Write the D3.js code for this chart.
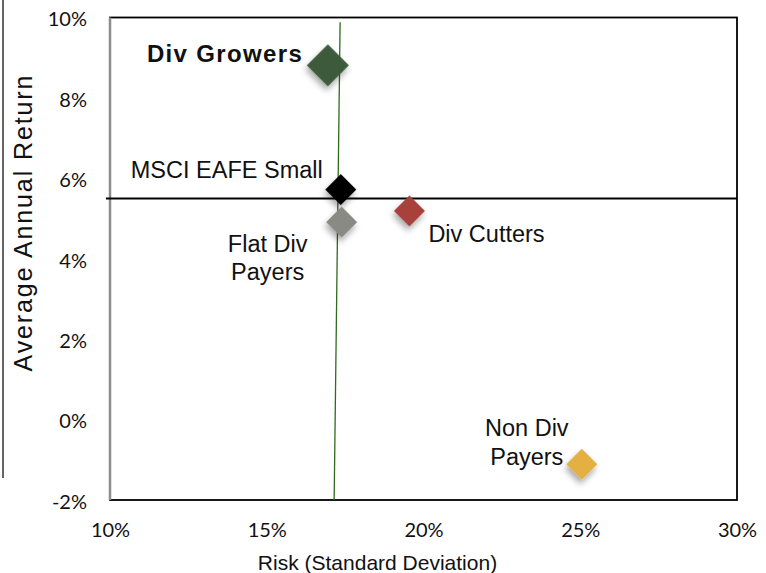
<!DOCTYPE html>
<html>
<head>
<meta charset="utf-8">
<title>Risk vs return</title>
<script src="https://cdn.jsdelivr.net/npm/d3@7"></script>
<style>
  body { margin: 0; background: #fff; }
  svg { display: block; }
  .tick text { font-family: Lato, "Open Sans", sans-serif; font-size: 20px; fill: #111; }
  .lbl { font-family: "Liberation Sans", Arial, sans-serif; font-size: 23.5px; fill: #111; }
</style>
</head>
<body>
<div id="chart"></div>
<script>
// data
const names = ["Div Growers", "MSCI EAFE Small", "Flat Div Payers", "Div Cutters", "Non Div Payers"];
const risk = [16.95, 17.36, 17.39, 19.55, 25.05];
const ret = [8.81, 5.72, 4.91, 5.19, -1.11];
const xTicks = [10, 15, 20, 25, 30];
const yTicks = [-2, 0, 2, 4, 6, 8, 10];
const benchReturn = 5.5;                     // horizontal black line
const benchRisk = [[17.15, -2], [17.34, 9.88]]; // near-vertical green line

// styles
const colors = ["#3c5a3b", "#000000", "#8a8a85", "#a8403b", "#e4b043"];
const width = 766, height = 573;
const margin = {left: 110, right: 29, top: 17.5, bottom: 73};

const x = d3.scaleLinear().domain([10, 30]).range([margin.left, width - margin.right]);
const y = d3.scaleLinear().domain([-2, 10]).range([height - margin.bottom, margin.top]);

const svg = d3.select("#chart").append("svg")
  .attr("width", width)
  .attr("height", height);

const defs = svg.append("defs");
const f = defs.append("filter").attr("id", "shadow")
  .attr("x", "-50%").attr("y", "-50%").attr("width", "200%").attr("height", "200%");
f.append("feDropShadow").attr("dx", 2).attr("dy", 4).attr("stdDeviation", 3)
  .attr("flood-color", "#000").attr("flood-opacity", 0.35);

// stray frame line on the left edge
svg.append("line")
  .attr("x1", 3).attr("x2", 3).attr("y1", 0).attr("y2", 478)
  .attr("stroke", "#333").attr("stroke-width", 1.5);

// plot frame
svg.append("rect")
  .attr("x", x(10)).attr("y", y(10))
  .attr("width", x(30) - x(10)).attr("height", y(-2) - y(10))
  .attr("fill", "none").attr("stroke", "#000").attr("stroke-width", 1.8);
svg.append("line")
  .attr("x1", x(10)).attr("x2", x(10)).attr("y1", y(10)).attr("y2", y(-2))
  .attr("stroke", "#8c8c8c").attr("stroke-width", 2.5);

// axes
const xAxis = svg.append("g")
  .attr("transform", "translate(0," + y(-2) + ")")
  .call(d3.axisBottom(x).tickValues(xTicks).tickSize(0).tickPadding(23).tickFormat(d => d + "%"));
xAxis.select(".domain").remove();

const yAxis = svg.append("g")
  .attr("transform", "translate(" + x(10) + ",0)")
  .call(d3.axisLeft(y).tickValues(yTicks).tickSize(0).tickPadding(23).tickFormat(d => d + "%"));
yAxis.select(".domain").remove();
yAxis.selectAll("text").attr("dy", "0.42em");

// axis titles
svg.append("text")
  .attr("class", "lbl")
  .attr("x", 377.5).attr("y", 570)
  .attr("text-anchor", "middle")
  .style("font-size", "21px")
  .text("Risk (Standard Deviation)");

svg.append("text")
  .attr("class", "lbl")
  .attr("transform", "translate(32,223.5) rotate(-90)")
  .attr("text-anchor", "middle")
  .attr("textLength", 296)
  .attr("lengthAdjust", "spacing")
  .style("font-size", "25px")
  .text("Average Annual Return");

// reference lines
svg.append("line")
  .attr("x1", x(9.87)).attr("x2", x(30))
  .attr("y1", y(benchReturn)).attr("y2", y(benchReturn))
  .attr("stroke", "#000").attr("stroke-width", 2);

svg.append("line")
  .attr("x1", x(benchRisk[0][0])).attr("y1", y(benchRisk[0][1]))
  .attr("x2", x(benchRisk[1][0])).attr("y2", y(benchRisk[1][1]))
  .attr("stroke", "#2f6a1e").attr("stroke-width", 1.3);

// points
const pts = names.map((n, i) => ({name: n, risk: risk[i], ret: ret[i], color: colors[i]}));
const sq = d3.symbol().type(d3.symbolSquare);

svg.append("g").selectAll("path")
  .data(pts)
  .join("path")
  .attr("d", (d, i) => sq.size(i === 0 ? 880 : 480)())
  .attr("transform", d => "translate(" + x(d.risk) + "," + y(d.ret) + ") rotate(45)")
  .attr("fill", d => d.color)
  .attr("filter", "url(#shadow)");

// labels: offsets from the point
const labelPos = [
  {dx: -26, dy: [-3.5], anchor: "end", lines: ["Div Growers"], bold: true},
  {dx: -18, dy: [-12], anchor: "end", lines: ["MSCI EAFE Small"]},
  {dx: -74, dy: [29.5, 57.7], anchor: "middle", lines: ["Flat Div", "Payers"]},
  {dx: 19, dy: [31], anchor: "start", lines: ["Div Cutters"]},
  {dx: -55, dy: [-28.3, 1], anchor: "middle", lines: ["Non Div", "Payers"]}
];

pts.forEach((d, i) => {
  const p = labelPos[i];
  const t = svg.append("text")
    .attr("class", "lbl")
    .attr("text-anchor", p.anchor)
    .style("font-weight", p.bold ? "bold" : null)
    .style("font-size", p.bold ? "24px" : null);
  p.lines.forEach((ln, k) => {
    const s = t.append("tspan")
      .attr("x", x(d.risk) + p.dx)
      .attr("y", y(d.ret) + p.dy[k])
      .text(ln);
    if (p.bold) s.attr("textLength", 155).attr("lengthAdjust", "spacing");
  });
});
</script>
</body>
</html>
